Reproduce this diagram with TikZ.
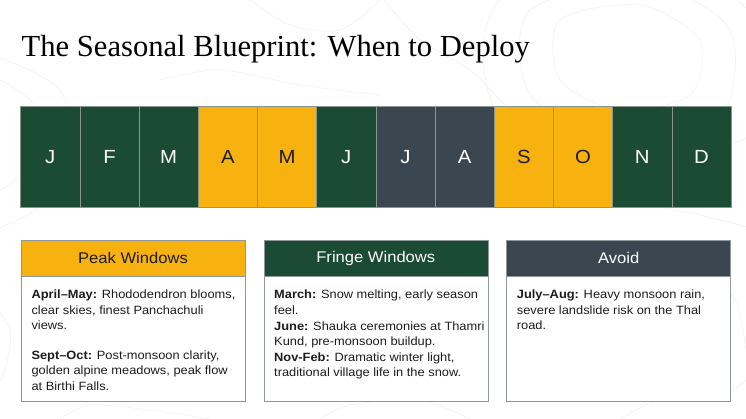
\documentclass[tikz,border=0pt]{standalone}
\usepackage{fontspec}
\setmainfont{Liberation Serif}
\setsansfont{Liberation Sans}[FakeStretch=1.07]
\definecolor{gr}{HTML}{1B4B33}
\definecolor{yl}{HTML}{F8B20F}
\definecolor{sl}{HTML}{3B4750}
\definecolor{cellline}{HTML}{8A9590}
\definecolor{boxline}{HTML}{8E979B}
\definecolor{ink}{HTML}{1C1C1C}
\definecolor{topo}{HTML}{EEEEEE}
\tikzset{
  monthcell/.style={draw=cellline, line width=0.6pt, minimum width=59.2pt, minimum height=101pt, inner sep=0pt,
    font=\sffamily\fontsize{19}{19}\selectfont},
  headbox/.style={draw=boxline, line width=0.6pt, minimum width=224pt, minimum height=36pt, inner sep=0pt,
    font=\sffamily\fontsize{15.5}{17}\selectfont},
  bodybox/.style={draw=boxline, line width=0.6pt, fill=white, minimum width=224pt, minimum height=124.7pt, inner sep=0pt},
  bodytext/.style={anchor=base west, align=left, inner sep=0pt, text=ink, font=\sffamily\fontsize{12}{15.6}\selectfont},
  topoline/.style={draw=topo, line width=0.5pt}
}
\begin{document}
\begin{tikzpicture}[x=1pt,y=-1pt]
\useasboundingbox (0,0) rectangle (746,419);
\fill[white] (0,0) rectangle (746,419);
% faint contour background
\begin{scope}[topoline]
\draw plot[smooth cycle] coordinates {(560,20) (640,5) (700,40) (690,95) (620,110) (560,80)};
\draw plot[smooth cycle] coordinates {(530,10) (650,-15) (730,30) (720,115) (610,135) (530,95)};
\draw plot[smooth cycle] coordinates {(500,0) (660,-35) (760,25) (750,135) (600,160) (495,110)};
\draw plot[smooth] coordinates {(380,-5) (420,40) (470,70) (520,120) (600,190) (700,215) (760,230)};
\draw plot[smooth cycle] coordinates {(-20,80) (30,100) (40,140) (15,180) (-20,190)};
\draw plot[smooth cycle] coordinates {(-40,60) (55,85) (70,150) (35,210) (-40,225)};
\draw plot[smooth] coordinates {(-10,300) (10,330) (5,370) (-10,400)};
\draw plot[smooth] coordinates {(60,419) (90,405) (150,410) (210,419)};
\draw plot[smooth] coordinates {(250,0) (290,25) (340,30) (380,0)};
\draw plot[smooth] coordinates {(160,80) (220,70) (300,85) (380,95)};
\draw plot[smooth] coordinates {(320,419) (350,405) (420,400) (470,419)};
\draw plot[smooth] coordinates {(700,260) (735,300) (746,350)};
\draw plot[smooth] coordinates {(620,419) (660,400) (720,395) (746,380)};
\end{scope}
% title
\node[anchor=base west, inner sep=0pt, text=black, font=\fontsize{30.6}{36}\selectfont] (title) at (21.5,57) {The Seasonal Blueprint: When to Deploy};
% month bar
\foreach \i/\l/\c/\t in {1/J/gr/white,2/F/gr/white,3/M/gr/white,4/A/yl/ink,5/M/yl/ink,6/J/gr/white,
  7/J/sl/white,8/A/sl/white,9/S/yl/ink,10/O/yl/ink,11/N/gr/white,12/D/gr/white}{
  \node[monthcell, fill=\c, text=\t] (m\i) at ({20.7+59.2*(\i-0.5)},157) {\l};
}
% Peak windows (base anchor = baseline of last line)
\node[headbox, fill=yl, text=ink] (ph) at (133,258) {Peak Windows};
\node[bodybox, anchor=north] (pb) at (ph.south) {};
\node[bodytext] (p1) at (31.3,329.7) {\textbf{April–May:} Rhododendron blooms,\\clear skies, finest Panchachuli\\views.};
\node[bodytext] (p2) at (31.3,390.2) {\textbf{Sept–Oct:} Post-monsoon clarity,\\golden alpine meadows, peak flow\\at Birthi Falls.};
% Fringe windows
\node[headbox, fill=gr, text=white] (fh) at (375.8,258) {Fringe Windows};
\node[bodybox, anchor=north] (fb) at (fh.south) {};
\node[bodytext] (f1) at (274,314.1) {\textbf{March:} Snow melting, early season\\feel.};
\node[bodytext] (f2) at (274,345.6) {\textbf{June:} Shauka ceremonies at Thamri\\Kund, pre-monsoon buildup.};
\node[bodytext] (f3) at (274,376.6) {\textbf{Nov-Feb:} Dramatic winter light,\\traditional village life in the snow.};
% Avoid
\node[headbox, fill=sl, text=white] (ah) at (618.7,258) {Avoid};
\node[bodybox, anchor=north] (ab) at (ah.south) {};
\node[bodytext] (a1) at (516.7,329.7) {\textbf{July–Aug:} Heavy monsoon rain,\\severe landslide risk on the Thal\\road.};
\end{tikzpicture}
\end{document}
